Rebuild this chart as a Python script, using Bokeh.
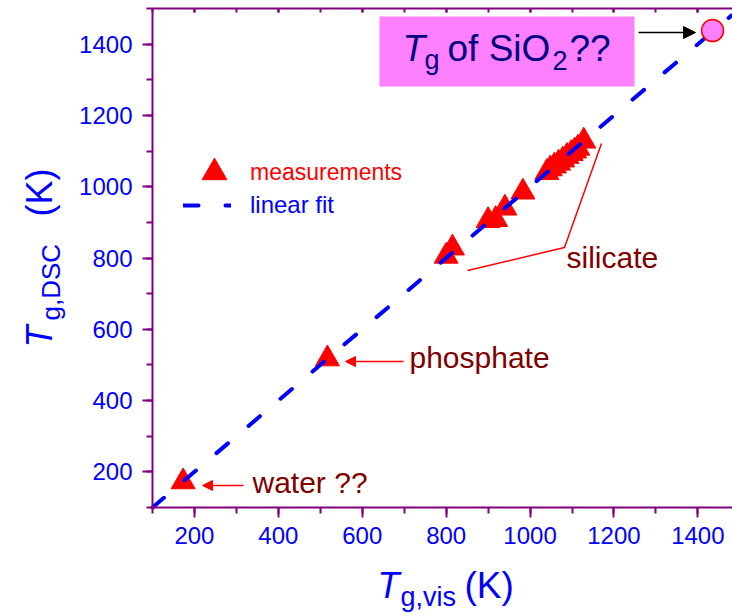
import math
from bokeh.plotting import figure
from bokeh.models import (Range1d, SingleIntervalTicker, LinearAxis, Label, Arrow,
                          NormalHead, BoxAnnotation, Legend, LegendItem)
from bokeh.embed import file_html
from bokeh.resources import INLINE

# ---- data ----
meas_x = [173, 517, 800, 815, 900, 918, 940, 983, 1040, 1048, 1058, 1068, 1078, 1088, 1098, 1106, 1114, 1128]
meas_y = [172, 517, 805, 828, 905, 908, 940, 985, 1040, 1050, 1058, 1066, 1075, 1085, 1093, 1100, 1108, 1128]
fit_x = [100, 1480]
fit_y = [100, 1480]
sio2_x = [1435]
sio2_y = [1438]
tick_interval = 200
axis_start = 100
y_axis_end = 1500

PURPLE = "#800080"
BLUE = "#0000FF"
RED = "#FF0000"
DARKRED = "#800000"
NAVY = "#000080"
PINK = "#FF80FF"
FONT = "Liberation Sans"

# ---- layout geometry (window pixels) ----
W, H = 732, 616
AX_LEFT_PX, AX_BOTTOM_PX, AX_TOP_PX = 152, 507, 8
KX = 0.4195                                   # px per K along x
KY = (AX_BOTTOM_PX - AX_TOP_PX) / (y_axis_end - axis_start)

def dx(px):
    return axis_start + (px - AX_LEFT_PX) / KX

def dy(py):
    return axis_start + (AX_BOTTOM_PX - py) / KY

XMIN, XMAX = dx(0), dx(W)
YMIN, YMAX = dy(H), dy(0)

p = figure(width=W, height=H, output_backend="svg", toolbar_location=None,
           x_range=Range1d(XMIN, XMAX), y_range=Range1d(YMIN, YMAX),
           min_border=0, min_border_left=0, min_border_right=0,
           min_border_top=0, min_border_bottom=0)
p.outline_line_color = None
p.grid.visible = False
p.background_fill_color = "white"
p.border_fill_color = "white"

def style_axis(ax, tin, tout, mtin, mtout):
    ax.ticker = SingleIntervalTicker(interval=tick_interval, num_minor_ticks=2)
    ax.axis_line_color = PURPLE
    ax.axis_line_width = 2
    ax.major_tick_line_color = PURPLE
    ax.major_tick_line_width = 2
    ax.minor_tick_line_color = PURPLE
    ax.minor_tick_line_width = 2
    ax.major_tick_in = tin
    ax.major_tick_out = tout
    ax.minor_tick_in = mtin
    ax.minor_tick_out = mtout
    ax.major_label_text_color = BLUE
    ax.major_label_text_font = FONT
    ax.major_label_text_font_size = "24px"
    ax.major_label_standoff = 9

xa = p.xaxis[0]
style_axis(xa, 0, 10, 0, 6)
xa.fixed_location = axis_start
xa.bounds = (axis_start, XMAX)

ya = p.yaxis[0]
style_axis(ya, 0, 10, 0, 6)
ya.major_label_standoff = 10
ya.fixed_location = axis_start
ya.bounds = (axis_start, y_axis_end)

top = LinearAxis()
style_axis(top, 4, 0, 4, 0)
top.major_label_text_color = None
top.major_label_text_font_size = "10px"
top.major_label_standoff = 0
top.fixed_location = y_axis_end
top.bounds = (axis_start, XMAX)
p.add_layout(top, "above")

# ---- glyphs ----
meas_r = p.scatter(meas_x, meas_y, marker="triangle", size=24, fill_color=RED, line_color=RED)
fit_r = p.line(fit_x, fit_y, line_color=BLUE, line_width=4, line_dash="15 27", line_cap="round")
p.scatter(sio2_x, sio2_y, marker="circle", size=22, fill_color=PINK, line_color=RED, line_width=1.5)

# ---- legends (location: px from the left / bottom of the frame) ----
leg1 = Legend(items=[LegendItem(label="measurements", renderers=[meas_r])],
              location=(183, H - 203), glyph_width=62, glyph_height=62, label_standoff=5,
              label_text_color=RED, label_text_font=FONT, label_text_font_size="23px",
              border_line_color=None, background_fill_alpha=0, padding=0, margin=0, spacing=0)
leg2 = Legend(items=[LegendItem(label="linear fit", renderers=[fit_r])],
              location=(183, H - 219), glyph_width=48, glyph_height=20, label_standoff=19,
              label_text_color=BLUE, label_text_font=FONT, label_text_font_size="24px",
              border_line_color=None, background_fill_alpha=0, padding=0, margin=0, spacing=0)
p.add_layout(leg1)
p.add_layout(leg2)

BASE_SHIFT = 0.33   # Bokeh draws "alphabetic" text this fraction of its size lower

def lab(text, px, py, size, color, style="normal", angle=0.0):
    if angle == 0.0:
        py = py - BASE_SHIFT * size
    else:
        px = px - BASE_SHIFT * size
    p.add_layout(Label(x=dx(px), y=dy(py), text=text, text_font=FONT,
                       text_font_size=f"{size}px", text_color=color, text_font_style=style,
                       text_baseline="alphabetic", text_align="left", angle=angle))

# axis titles
lab("T", 377, 597, 36, BLUE, "italic")
lab("g,vis", 400, 605, 27, BLUE)
lab("(K)", 464, 597, 37, BLUE)
lab("T", 51, 347, 36, BLUE, "italic", math.pi / 2)
lab("g,DSC", 59, 320, 26, BLUE, "normal", math.pi / 2)
lab("(K)", 51, 216, 36, BLUE, "normal", math.pi / 2)

# annotations
lab("water ??", 252, 492, 30, DARKRED)
lab("phosphate", 409, 367, 30, DARKRED)
lab("silicate", 566, 267, 30, DARKRED)

p.add_layout(Arrow(x_start=dx(243), y_start=dy(485), x_end=dx(202), y_end=dy(485),
                   line_color=RED, line_width=1.5,
                   end=NormalHead(size=10, fill_color=RED, line_color=RED, line_width=1)))
p.add_layout(Arrow(x_start=dx(403), y_start=dy(361), x_end=dx(345), y_end=dy(361),
                   line_color=RED, line_width=1.5,
                   end=NormalHead(size=10, fill_color=RED, line_color=RED, line_width=1)))
p.line([dx(601), dx(564), dx(467)], [dy(143), dy(247), dy(270)], line_color=RED, line_width=1.5)

# SiO2 box
p.add_layout(BoxAnnotation(left=dx(379), right=dx(634), top=dy(16), bottom=dy(86),
                           fill_color=PINK, fill_alpha=1.0, line_color=None))
lab("T", 402, 60, 37, NAVY, "italic")
lab("g", 424, 68, 27, NAVY)
lab("of SiO", 447, 60, 37, NAVY)
lab("2", 552, 69, 27, NAVY)
lab("??", 569, 60, 37, NAVY)
p.add_layout(Arrow(x_start=dx(638), y_start=dy(32), x_end=dx(695), y_end=dy(32),
                   line_color="black", line_width=1.5,
                   end=NormalHead(size=12, fill_color="black", line_color="black", line_width=1)))

open("out.html", "w").write(file_html(p, INLINE))
